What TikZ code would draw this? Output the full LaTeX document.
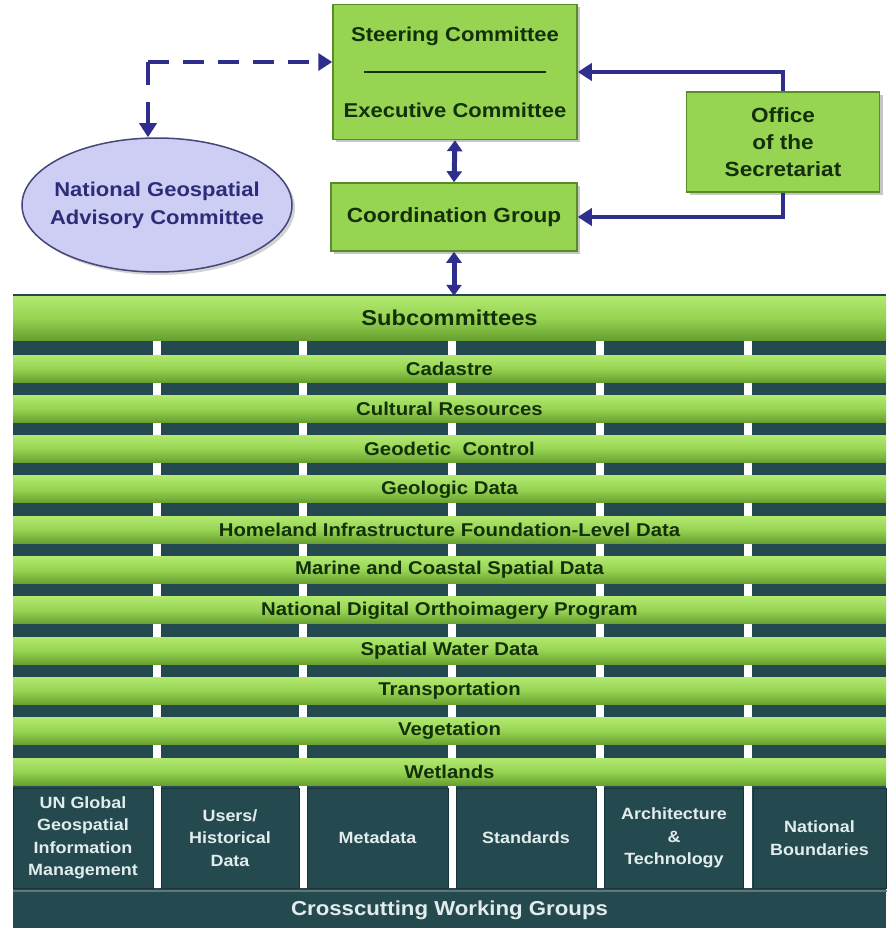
\documentclass[tikz,border=0pt]{standalone}
\usepackage{fontspec}
\setmainfont[FakeStretch=1.1]{Liberation Sans}
\usetikzlibrary{shapes.geometric,positioning,arrows.meta,shadows}
\definecolor{boxcolor}{RGB}{150,212,82}
\definecolor{boxedge}{RGB}{88,140,40}
\definecolor{bartop}{RGB}{178,232,112}
\definecolor{barbot}{RGB}{104,160,48}
\definecolor{tealcolor}{RGB}{36,74,80}
\definecolor{tealedge}{RGB}{24,52,56}
\definecolor{linkcolor}{RGB}{46,46,140}
\definecolor{ovalcolor}{RGB}{206,206,245}
\definecolor{ovaledge}{RGB}{70,70,120}
\definecolor{ovaltext}{RGB}{44,44,120}
\definecolor{namecolor}{RGB}{20,48,10}
\definecolor{wgcolor}{RGB}{226,236,236}

\begin{document}
\begin{tikzpicture}[%
    x=1pt, y=-1pt,              % one unit is one pixel of the sketch
    >={Triangle[length=14pt,width=17pt]},
    link/.style={draw=linkcolor, line width=4pt},
    ]
\tikzset{
  base/.style={align=center, text=namecolor, font=\bfseries},
  boxnode/.style={base, rectangle, fill=boxcolor, draw=boxedge, line width=1.5pt,
    drop shadow={shadow xshift=3pt, shadow yshift=-3pt, opacity=0.45}},
  oval/.style={ellipse, fill=ovalcolor, draw=ovaledge, line width=1.5pt, inner sep=0pt,
    drop shadow={shadow xshift=3pt, shadow yshift=-3pt, opacity=0.35}},
  bar/.style={base, rectangle, minimum width=873pt, inner sep=0pt,
    top color=bartop, bottom color=barbot, middle color=boxcolor,
    font=\bfseries\fontsize{18.5}{20}\selectfont},
  wg/.style={rectangle, fill=tealcolor, draw=tealedge, line width=1pt, align=center,
    minimum height=100pt, inner sep=0pt, text=wgcolor,
    font=\bfseries\fontsize{16.3}{22.5}\selectfont},
}
\useasboundingbox (0,0) rectangle (886,928);

\node [boxnode, minimum width=244pt, minimum height=135pt,
  font=\bfseries\fontsize{20}{38}\selectfont] (p0) at (455,72)
  {Steering Committee\\\rule[6pt]{182pt}{2pt}\\Executive Committee};
\node [boxnode, minimum width=246pt, minimum height=68pt,
  font=\bfseries\fontsize{20.5}{22}\selectfont] (p1) at (454,217) {Coordination Group};
\node [boxnode, minimum width=193pt, minimum height=100pt,
  font=\bfseries\fontsize{20.5}{27}\selectfont] (p2) at (783,142) {Office\\of the\\Secretariat};
\node [oval, minimum width=270pt, minimum height=134pt,
  label={[base, text=ovaltext, font=\bfseries\fontsize{20}{28}\selectfont]center:National Geospatial\\Advisory Committee}]
  (p3) at (157,205) {};
\coordinate (c0) at (148,62);

% subcommittees
\fill [tealcolor] (13,294) rectangle (886,928);
\foreach \x in {157,303,452,600,748}
  \draw [white, line width=8pt] (\x,300) -- (\x,888);
\node [bar, minimum height=44pt, font=\bfseries\fontsize{21.5}{22}\selectfont] (s0) at (449.5,318) {Subcommittees};
\foreach \txt [count=\i] in {Cadastre, Cultural Resources, Geodetic~ Control, Geologic Data,
    Homeland Infrastructure Foundation-Level Data, Marine and Coastal Spatial Data,
    National Digital Orthoimagery Program, Spatial Water Data, Transportation,
    Vegetation, Wetlands}
  \node [bar, minimum height=27pt] (s\i) at (449.5,{368.5+40.3*(\i-1)}) {\txt};

% working groups
\node [wg, minimum width=140pt] (w1) at (83,838) {UN Global\\Geospatial\\Information\\Management};
\node [wg, minimum width=138pt] (w2) at (230,838) {Users/\\Historical\\Data};
\node [wg, minimum width=141pt] (w3) at (377.5,838) {Metadata};
\node [wg, minimum width=140pt] (w4) at (526,838) {Standards};
\node [wg, minimum width=139pt] (w5) at (674,838) {Architecture\\\&\\Technology};
\node [wg, minimum width=133pt] (w6) at (819.5,838) {National\\Boundaries};
\node [wg, minimum width=873pt, minimum height=37pt, draw=none,
  font=\bfseries\fontsize{20.2}{22}\selectfont] (w0) at (449.5,910) {Crosscutting Working Groups};
\draw [black!20!tealcolor!70!white, line width=2pt] (w0.north west) -- (w0.north east);

%connect
\draw [link, ->, dash pattern=on 21pt off 14pt] (c0) -- (c0 -| p0.west);
\draw [link, ->, dash pattern=on 23pt off 17pt] (c0) -- (c0 |- p3.north);
\draw [link, ->] (p2.north) |- (p0.east);
\draw [link, ->] (p2.south) |- (p1.east);
\draw [link, <->, line width=5pt, >={Triangle[length=11pt,width=15pt]}] (p0.south) -- (p1.north);
\draw [link, <->, line width=5pt, >={Triangle[length=11pt,width=15pt]}] (p1.south) -- (p1.south |- s0.north);

\end{tikzpicture}
\end{document}
